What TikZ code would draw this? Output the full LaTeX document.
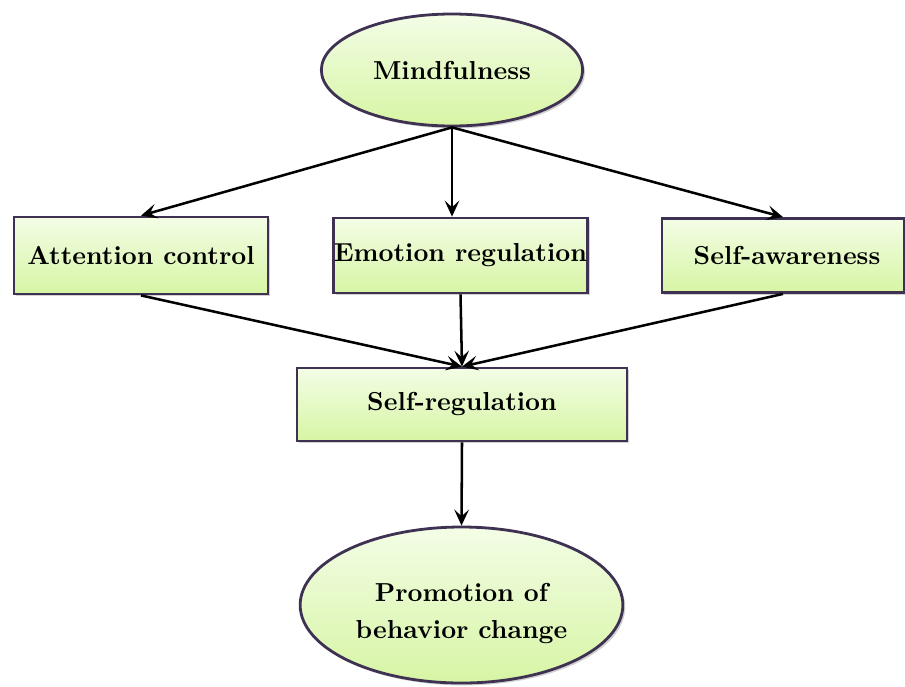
\documentclass[tikz,border=0pt]{standalone}
\usepackage{fontspec}
\usetikzlibrary{shapes.geometric,arrows.meta,shadows}
\newfontface\labelface{lmroman10-bold.otf}
\definecolor{edgepurple}{HTML}{3F3151}
\definecolor{filltop}{HTML}{F3FDE6}
\definecolor{fillbot}{HTML}{D7F5A4}
\tikzset{
  basefill/.style={draw=edgepurple, line width=2.1pt, top color=filltop, bottom color=fillbot,
    drop shadow={shadow xshift=1.8pt, shadow yshift=-1.8pt, opacity=0.3, fill=black!60},
    font=\labelface\fontsize{19.5}{28}\selectfont, text=black, inner sep=0pt},
  oval/.style={basefill, ellipse},
  stage/.style={basefill, rectangle},
  flow/.style={line width=1.9pt, -{Stealth[length=12pt,width=11pt,inset=5pt]}}
}
\begin{document}
\begin{tikzpicture}[x=0.75pt,y=-0.75pt]
  \useasboundingbox (0,0) rectangle (905,686);
  % top and bottom ovals
  \node[oval, minimum width=196pt, minimum height=84pt] (mind) at (452,70) {Mindfulness};
  \node[oval, minimum width=242pt, minimum height=117pt] (prom) at (461.5,605)
    {\raisebox{-5.5pt}[\height][\depth]{\begin{tabular}{@{}c@{}}Promotion of\\behavior change\end{tabular}}};
  % middle row of stages
  \node[stage, minimum width=190.5pt, minimum height=57.75pt] (att) at (141,255.5) {Attention control};
  \node[stage, minimum width=191pt, minimum height=56.25pt] (emo) at (460.5,255.5) {Emotion regulation};
  \node[stage, minimum width=181.5pt, minimum height=55.5pt] (sa) at (783,255.5) {\hspace{6pt}Self-awareness};
  \node[stage, minimum width=247.5pt, minimum height=54.75pt] (sr) at (462,404.5) {Self-regulation};
  % connectors
  \draw[flow] (mind.south) -- (att.north);
  \draw[flow] (mind.south) -- (mind.south |- emo.north);
  \draw[flow] (mind.south) -- (sa.north);
  \draw[flow] (att.south) -- (sr.north);
  \draw[flow] (emo.south) -- (sr.north);
  \draw[flow] (sa.south) -- (sr.north);
  \draw[flow] (sr.south) -- (prom.north);
\end{tikzpicture}
\end{document}
